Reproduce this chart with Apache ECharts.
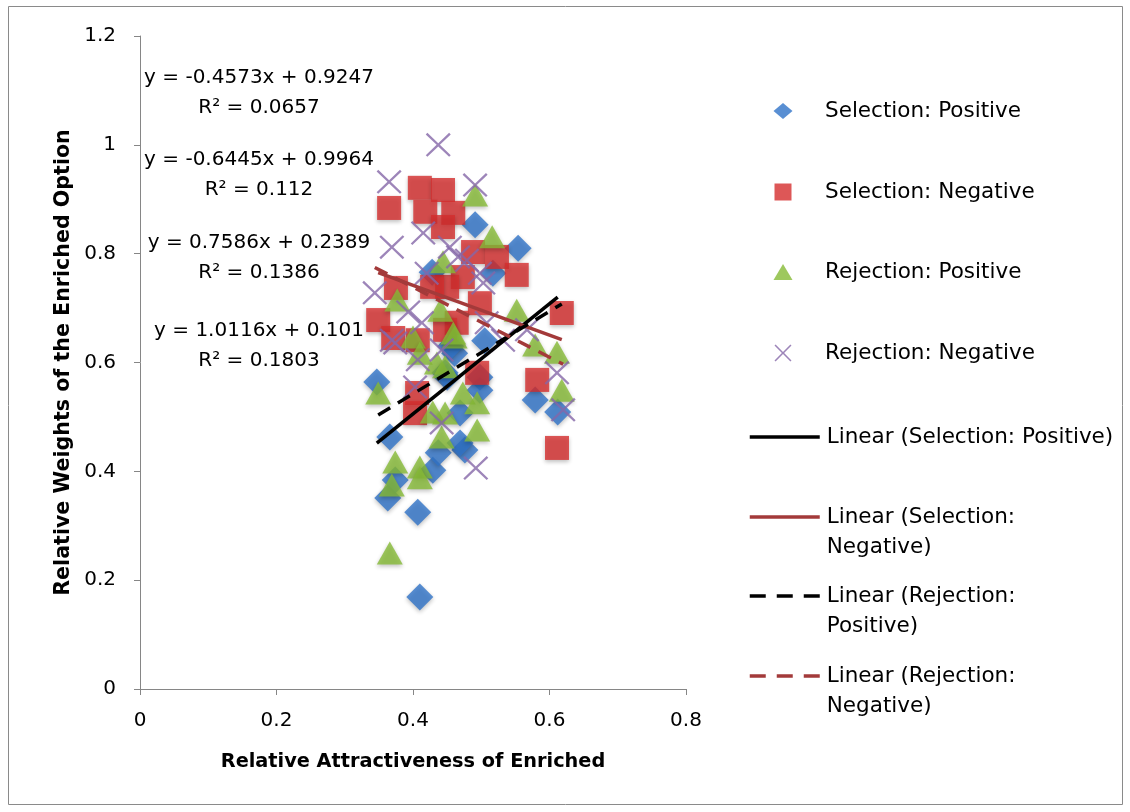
<!DOCTYPE html>
<html>
<head>
<meta charset="utf-8">
<script src="https://cdn.jsdelivr.net/npm/echarts@6/dist/echarts.min.js"></script>
<style>
  html, body { margin: 0; padding: 0; background: #ffffff; }
  #chart { width: 1130px; height: 812px; }
</style>
</head>
<body>
<div id="chart"></div>
<script>
// Series names
const seriesNames = ['Selection: Positive', 'Selection: Negative', 'Rejection: Positive', 'Rejection: Negative'];

// [relative attractiveness, relative weight] per observation
const selectionPositive = [
  [0.347, 0.564], [0.366, 0.463], [0.363, 0.351], [0.374, 0.384], [0.407, 0.325],
  [0.410, 0.169], [0.429, 0.402], [0.437, 0.434], [0.476, 0.439], [0.491, 0.853],
  [0.554, 0.810], [0.428, 0.766], [0.517, 0.764], [0.579, 0.531], [0.612, 0.509],
  [0.498, 0.573], [0.498, 0.549], [0.450, 0.573], [0.469, 0.507], [0.469, 0.452],
  [0.447, 0.581], [0.461, 0.617], [0.455, 0.630], [0.505, 0.640]
];
const selectionNegative = [
  [0.365, 0.884], [0.410, 0.921], [0.444, 0.917], [0.418, 0.877], [0.459, 0.875],
  [0.444, 0.849], [0.488, 0.803], [0.349, 0.678], [0.375, 0.737], [0.371, 0.645],
  [0.523, 0.794], [0.552, 0.761], [0.473, 0.757], [0.498, 0.709], [0.464, 0.673],
  [0.450, 0.739], [0.428, 0.739], [0.447, 0.660], [0.407, 0.641], [0.406, 0.544],
  [0.403, 0.507], [0.494, 0.581], [0.582, 0.568], [0.611, 0.443], [0.618, 0.691]
];
const rejectionPositive = [
  [0.491, 0.908], [0.516, 0.831], [0.444, 0.785], [0.377, 0.715], [0.440, 0.696],
  [0.400, 0.647], [0.461, 0.647], [0.552, 0.696], [0.459, 0.654], [0.579, 0.632],
  [0.611, 0.619], [0.618, 0.549], [0.410, 0.617], [0.435, 0.599], [0.349, 0.544],
  [0.473, 0.544], [0.494, 0.526], [0.429, 0.509], [0.494, 0.476], [0.374, 0.417],
  [0.410, 0.408], [0.369, 0.375], [0.410, 0.388], [0.366, 0.250], [0.442, 0.463],
  [0.447, 0.592], [0.447, 0.507]
];
const rejectionNegative = [
  [0.437, 1.000], [0.365, 0.932], [0.491, 0.926], [0.415, 0.838], [0.369, 0.812],
  [0.344, 0.728], [0.369, 0.641], [0.492, 0.406], [0.393, 0.693], [0.413, 0.673],
  [0.374, 0.636], [0.466, 0.794], [0.420, 0.764], [0.498, 0.764], [0.454, 0.812],
  [0.479, 0.788], [0.503, 0.746], [0.508, 0.673], [0.532, 0.641], [0.567, 0.660],
  [0.611, 0.581], [0.620, 0.513], [0.407, 0.605], [0.442, 0.623], [0.403, 0.555],
  [0.442, 0.489]
];

// Linear trendline fits, same order as seriesNames
const trendSlopes = [1.0116, -0.4573, 0.7586, -0.6445];
const trendIntercepts = [0.101, 0.9247, 0.2389, 0.9964];
const trendR2 = [0.1803, 0.0657, 0.1386, 0.112];

// Axis ranges
const xTicks = [0, 0.2, 0.4, 0.6, 0.8];
const yTicks = [0, 0.2, 0.4, 0.6, 0.8, 1, 1.2];

const FONT = '"DejaVu Sans", "Open Sans", sans-serif';
const scatterData = [selectionPositive, selectionNegative, rejectionPositive, rejectionNegative];
const markerColors = ['#2f73c8', '#d52d2d', '#86ba36', '#8467a8'];
const trendColors = ['#000000', '#a33a3a', '#000000', '#a33a3a'];
const trendDash = ['solid', 'solid', [14, 9], [14, 9]];
const crossPath = 'path://M0,1.3L1.3,0L10,8.7L18.7,0L20,1.3L11.3,10L20,18.7L18.7,20L10,11.3L1.3,20L0,18.7L8.7,10Z';
const markerSymbols = ['diamond', 'rect', 'triangle', crossPath];
const markerSizes = [[27, 27], [24, 24], [26, 23], [25, 24]];
const legendIconSizes = [[19, 16], [17, 17], [19, 16], [17, 17]];

const series = [];
scatterData.forEach((d, i) => {
  series.push({
    name: seriesNames[i],
    type: 'scatter',
    data: d,
    symbol: markerSymbols[i],
    symbolSize: markerSizes[i],
    itemStyle: i === 3 ? { color: markerColors[i] } : {
      color: markerColors[i],
      shadowBlur: 4,
      shadowColor: 'rgba(0,0,0,0.3)',
      shadowOffsetY: 2
    },
    z: 2 + i
  });
});

const trendNames = seriesNames.map(n => 'Linear (' + n + ')');
scatterData.forEach((d, i) => {
  const xs = d.map(p => p[0]);
  const x0 = Math.min(...xs), x1 = Math.max(...xs);
  const f = x => trendSlopes[i] * x + trendIntercepts[i];
  series.push({
    name: trendNames[i],
    type: 'line',
    data: [[x0, f(x0)], [x1, f(x1)]],
    symbol: 'none',
    showSymbol: false,
    lineStyle: { color: trendColors[i], width: 3.5, type: trendDash[i] },
    itemStyle: { color: trendColors[i] },
    z: 10 + i
  });
});

// Legend entries, one row each
const legendLabels = [
  'Selection: Positive', 'Selection: Negative', 'Rejection: Positive', 'Rejection: Negative',
  'Linear (Selection: Positive)', '\nLinear (Selection:\nNegative)',
  '\nLinear (Rejection:\nPositive)', '\nLinear (Rejection:\nNegative)'
];
const legendNames = seriesNames.concat(trendNames);
const legendRowY = [111, 192, 272, 353, 437, 517, 596, 676];
const LH = 30;
const TEXT_X = 825;
const legends = legendNames.map((name, i) => {
  const lines = legendLabels[i].split('\n').length;
  const isMarker = i < 4;
  const w = isMarker ? legendIconSizes[i][0] : 70;
  const h = isMarker ? legendIconSizes[i][1] : 14;
  const left = isMarker ? 783 - w / 2 : 748;
  const lg = {
    data: [name],
    left: left,
    top: legendRowY[i] - lines * LH / 2,
    padding: 0,
    itemWidth: w,
    itemHeight: h,
    itemGap: 0,
    selectedMode: false,
    itemStyle: isMarker ? { shadowBlur: 0, shadowOffsetY: 0 } : { opacity: 0 },
    formatter: () => legendLabels[i],
    textStyle: {
      fontFamily: FONT, fontSize: 21.5, color: '#000', lineHeight: LH,
      padding: [0, 0, 0, TEXT_X - (left + w + 5)]
    }
  };
  if (!isMarker) {
    lg.lineStyle = { width: 3.5, color: trendColors[i - 4], type: trendDash[i - 4] === 'solid' ? 'solid' : [16, 11] };
  }
  return lg;
});

// Trendline equation labels, listed top to bottom
const eqOrder = [1, 3, 2, 0];
const eqCenterY = [93, 175, 258, 346];
function fmtEq(i) {
  const b = trendIntercepts[i];
  return 'y = ' + trendSlopes[i] + 'x ' + (b < 0 ? '- ' : '+ ') + Math.abs(b) + '\nR² = ' + trendR2[i];
}
const eqTexts = eqOrder.map((idx, k) => ({
  type: 'text',
  x: 259,
  y: eqCenterY[k],
  z: 100,
  style: {
    text: fmtEq(idx),
    fontFamily: FONT,
    fontSize: 20,
    lineHeight: 30,
    fill: '#000',
    align: 'center',
    verticalAlign: 'middle'
  }
}));

const axisColor = '#868686';
const option = {
  backgroundColor: '#ffffff',
  animation: false,
  grid: { left: 140, top: 36, width: 546, height: 653, containLabel: false },
  xAxis: {
    type: 'value',
    min: xTicks[0],
    max: xTicks[xTicks.length - 1],
    interval: xTicks[1] - xTicks[0],
    name: 'Relative Attractiveness of Enriched',
    nameLocation: 'middle',
    nameGap: 63,
    nameTextStyle: { fontFamily: FONT, fontSize: 19.3, fontWeight: 'bold', color: '#000' },
    axisLine: { show: true, lineStyle: { color: axisColor, width: 1 } },
    axisTick: { show: true, length: 6, lineStyle: { color: axisColor } },
    axisLabel: { fontFamily: FONT, fontSize: 20, color: '#000', margin: 22, formatter: v => String(+v.toFixed(1)) },
    splitLine: { show: false }
  },
  yAxis: {
    type: 'value',
    min: yTicks[0],
    max: yTicks[yTicks.length - 1],
    interval: yTicks[1] - yTicks[0],
    name: 'Relative Weights of the Enriched Option',
    nameLocation: 'middle',
    nameGap: 66,
    nameTextStyle: { fontFamily: FONT, fontSize: 20.6, fontWeight: 'bold', color: '#000' },
    axisLine: { show: true, lineStyle: { color: axisColor, width: 1 } },
    axisTick: { show: true, length: 6, lineStyle: { color: axisColor } },
    axisLabel: { fontFamily: FONT, fontSize: 20, color: '#000', margin: 24, formatter: v => String(+v.toFixed(1)) },
    splitLine: { show: false }
  },
  legend: legends,
  series: series,
  graphic: [
    {
      type: 'rect',
      shape: { x: 8.5, y: 6.5, width: 1114, height: 798 },
      style: { fill: 'none', stroke: '#8a8a8a', lineWidth: 1 },
      silent: true
    }
  ].concat(eqTexts)
};

const chart = echarts.init(document.getElementById('chart'), null, { renderer: 'canvas' });
chart.setOption(option);
</script>
</body>
</html>
